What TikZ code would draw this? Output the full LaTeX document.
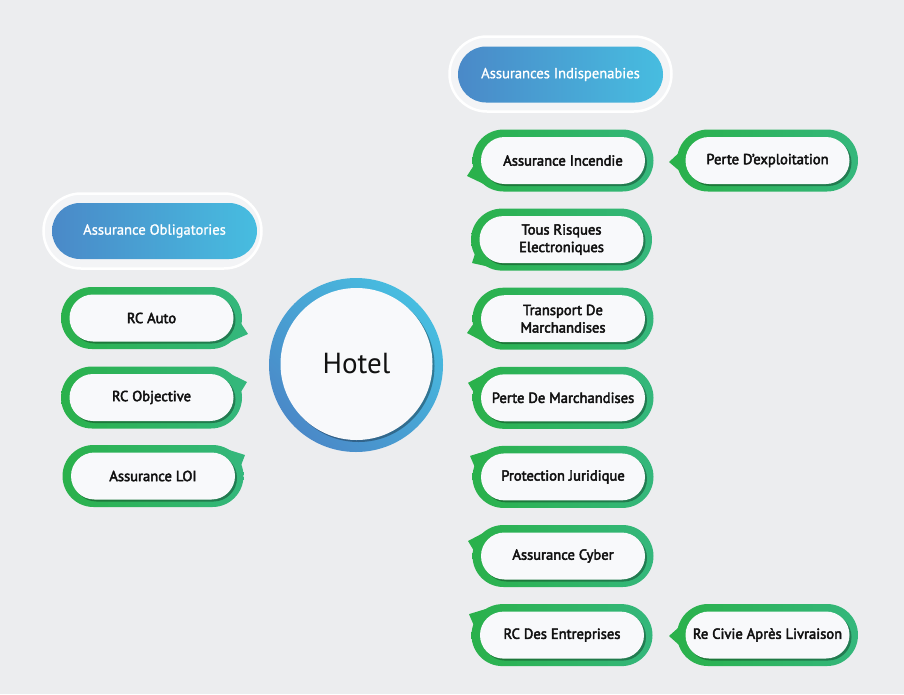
\documentclass[tikz,border=0pt]{standalone}
\usepackage{fontspec}
\setmainfont{PT Sans}
\newfontfamily\pillfont{PT Sans}[FakeBold=3]
\newfontfamily\headfont{PT Sans}[FakeBold=1.2]
\usetikzlibrary{shapes.misc,shadows,calc}
\definecolor{bg}{HTML}{ECEDEF}
\definecolor{gL}{HTML}{2AB14B}
\definecolor{gR}{HTML}{34B77C}
\definecolor{bL}{HTML}{4A89C8}
\definecolor{bR}{HTML}{47BDE0}
\definecolor{pillW}{HTML}{F8F9FB}
\definecolor{ringC}{HTML}{F3F4F6}
\definecolor{txt}{HTML}{111111}
\newcommand\mypill[8]{%
  \coordinate (#1c) at (#2,#3);
  \fill[#4] ($(#1c)+(#5)$) -- ($(#1c)+(#6)$) -- ($(#1c)+(#7)$) -- cycle;
  \node[gout] (#1o) at (#1c) {};
  \node[gin] (#1) at (#1c) {#8};
}
\begin{document}
\begin{tikzpicture}[x=1pt,y=-1pt,
  gout/.style={rounded rectangle, minimum width=181pt, minimum height=62pt, inner sep=0pt, left color=gL, right color=gR, draw=none},
  gin/.style={rounded rectangle, minimum width=164pt, minimum height=47pt, inner sep=0pt, fill=pillW, text=txt, align=center,
    font=\pillfont\fontsize{14.6}{17.5}\selectfont,
    drop shadow={shadow xshift=2pt, shadow yshift=-2pt, opacity=0.32, fill=black}},
  ringbox/.style={rounded rectangle, fill=ringC, draw=white, line width=2.5pt, inner sep=0pt, minimum height=75pt},
  bluepill/.style={rounded rectangle, left color=bL, right color=bR, draw=none, inner sep=0pt, minimum width=205pt, minimum height=56pt, text=white, font=\headfont\fontsize{14.6}{17}\selectfont}
]
\fill[bg] (0,0) rectangle (904,694);
\useasboundingbox (0,0) rectangle (904,694);

% headers
\node[ringbox, minimum width=218pt] (r1) at (152.5,231) {};
\node[bluepill] (h1) at (154.5,231) {Assurance Obligatories};
\node[ringbox, minimum width=222pt] (r2) at (560.5,74) {};
\node[bluepill] (h2) at (560.5,74.5) {Assurances Indispenabies};

% hotel
\node[circle, minimum size=174pt, inner sep=0pt, top color=bR, bottom color=bL, shading angle=-45] (hotelo) at (356,365) {};
\node[circle, minimum size=152pt, inner sep=0pt, fill=pillW, text=txt, font=\fontsize{29}{34}\selectfont,
  drop shadow={shadow xshift=2pt, shadow yshift=-2pt, opacity=0.32, fill=black}] (hotel) at (356.5,364) {Hotel};

% left column
\mypill{rca}{151.5}{318}{gR}{96.5,16}{86,0}{74,26}{RC Auto}
\mypill{rco}{151.5}{397.5}{gR}{95.5,-15.5}{86,0}{74,-26}{RC Objective}
\mypill{loi}{153}{476}{gR}{92,-21}{84,0}{70,-28}{Assurance LOI}

% right column
\mypill{inc}{563}{160.5}{gL}{-96,15.5}{-86,0}{-74,26}{Assurance Incendie}
\mypill{tre}{561.5}{239.6}{gL}{-89.5,23.4}{-82,0}{-60,30}{Tous Risques\\Electroniques}
\mypill{tdm}{563}{318.7}{gL}{-96,14.3}{-86,0}{-74,26}{Transport De\\Marchandises}
\mypill{pdm}{563}{397.8}{gL}{-95,-15}{-86,0}{-74,-26}{Perte De Marchandises}
\mypill{prj}{563}{476.9}{gL}{-93,-21}{-84,0}{-70,-28}{Protection Juridique}
\mypill{cyb}{563}{556}{gL}{-95,-15}{-86,0}{-74,-26}{Assurance Cyber}
\mypill{rcd}{562}{635.1}{gL}{-93,-21}{-84,0}{-70,-28}{RC Des Entreprises}

% second column
\mypill{pex}{767.5}{160.5}{gL}{-98.5,1.5}{-85,-11}{-85,13}{Perte D’exploitation}
\mypill{rcl}{767.5}{635}{gL}{-98.5,1}{-85,-11}{-85,13}{Re Civie Après Livraison}
\end{tikzpicture}
\end{document}
